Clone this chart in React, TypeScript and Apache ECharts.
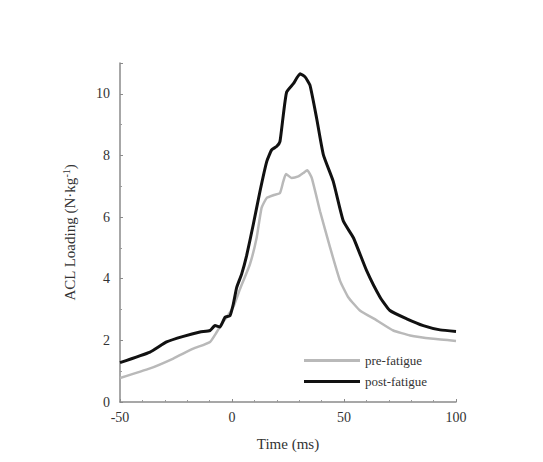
import React, { useEffect, useRef } from "react";
import * as echarts from "echarts";

const preTime = [-50, -36.6, -26.2, -17.3, -9.8, -6.8, -4.6, -2.4, 0.6, 3.6, 8, 11, 13.2, 15.5, 18.5, 21.4, 22.9, 24.1, 26.6, 29.6, 31.8, 33.6, 35.6, 39.3, 43.8, 48.2, 51.9, 57.1, 64.6, 72, 79.5, 89.9, 100];
const preLoad = [0.78, 1.09, 1.41, 1.73, 1.95, 2.27, 2.54, 2.75, 3.08, 3.67, 4.47, 5.33, 6.3, 6.62, 6.71, 6.78, 7.16, 7.4, 7.27, 7.32, 7.43, 7.52, 7.27, 6.19, 5.01, 3.94, 3.4, 2.97, 2.65, 2.32, 2.16, 2.05, 1.98];
const postTime = [-50, -36.6, -29.2, -21.7, -14.3, -9.8, -7.6, -5.4, -3.1, -0.9, 0.6, 2.1, 4.3, 6.5, 9.5, 12.5, 15.5, 17.7, 19.9, 21.4, 22.9, 24.4, 27.4, 30.4, 32.6, 34.8, 37.8, 40.8, 45.2, 49.7, 54.2, 60.1, 66.1, 70.5, 78, 85.4, 92.9, 100];
const postLoad = [1.28, 1.62, 1.95, 2.13, 2.27, 2.32, 2.48, 2.43, 2.75, 2.8, 3.18, 3.72, 4.15, 4.74, 5.76, 6.84, 7.8, 8.18, 8.29, 8.45, 9.31, 10.06, 10.33, 10.65, 10.55, 10.28, 9.2, 8.02, 7.16, 5.87, 5.33, 4.26, 3.4, 2.97, 2.7, 2.48, 2.34, 2.29];
const seriesNames = ["pre-fatigue", "post-fatigue"];
const xTitle = "Time (ms)";

const FONT = "Liberation Serif";

export default function App() {
  const ref = useRef<HTMLDivElement>(null);
  useEffect(() => {
    if (!ref.current) return;
    const chart = echarts.init(ref.current, undefined, { renderer: "svg" });
    const axisLine = { show: true, onZero: false, lineStyle: { color: "#8a8a8a", width: 1.5 } };
    const axisTick = { show: true, inside: true, length: 3, lineStyle: { color: "#8a8a8a" } };
    const minorLine = { color: "#9a9a9a" };
    const label = { color: "#333", fontFamily: FONT, fontSize: 14 };
    chart.setOption({
      animation: false,
      backgroundColor: "#fff",
      textStyle: { fontFamily: FONT },
      grid: { left: 120, right: 87, top: 63, bottom: 60 },
      legend: {
        orient: "vertical",
        left: 299,
        top: 349,
        itemWidth: 56,
        itemHeight: 3,
        itemGap: 8,
        icon: "rect",
        textStyle: { fontFamily: FONT, fontSize: 13, color: "#333", fontWeight: "normal" },
        data: seriesNames,
      },
      xAxis: {
        type: "value",
        min: -50,
        max: 100,
        interval: 50,
        name: xTitle,
        nameLocation: "middle",
        nameGap: 34,
        nameTextStyle: { fontFamily: FONT, fontSize: 15, color: "#333" },
        minorTick: { show: true, length: 2, splitNumber: 5, lineStyle: minorLine },
        axisLine,
        axisTick,
        splitLine: { show: false },
        axisLabel: { ...label, margin: 8 },
      },
      yAxis: {
        type: "value",
        min: 0,
        max: 11,
        interval: 2,
        name: "ACL Loading (N·kg{sup|-1})",
        nameLocation: "middle",
        nameGap: 41,
        nameTextStyle: {
          fontFamily: FONT,
          fontSize: 15,
          color: "#333",
          rich: { sup: { fontFamily: FONT, fontSize: 10, verticalAlign: "top", padding: [0, 0, 8, 0], color: "#333" } },
        },
        minorTick: { show: true, length: 2, splitNumber: 2, lineStyle: minorLine },
        axisLine,
        axisTick,
        splitLine: { show: false },
        axisLabel: {
          ...label,
          margin: 10,
          formatter: (v: number) => (v > 10 ? "" : String(v)),
        },
      },
      series: [
        {
          name: seriesNames[0],
          type: "line",
          showSymbol: false,
          smooth: 0.15,
          data: preTime.map((t, i) => [t, preLoad[i]]),
          lineStyle: { color: "#b9b9b9", width: 2.5 },
          itemStyle: { color: "#b9b9b9" },
        },
        {
          name: seriesNames[1],
          type: "line",
          showSymbol: false,
          smooth: 0.15,
          data: postTime.map((t, i) => [t, postLoad[i]]),
          lineStyle: { color: "#111", width: 3 },
          itemStyle: { color: "#111" },
        },
      ],
    });
    return () => chart.dispose();
  }, []);
  return <div ref={ref} style={{ width: 543, height: 462, position: "absolute", left: 0, top: 0 }} />;
}
